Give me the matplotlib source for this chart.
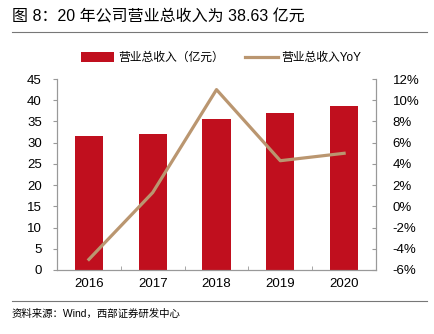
import matplotlib.pyplot as plt
from matplotlib.ticker import FuncFormatter

plt.rcParams['font.family'] = ['Liberation Sans', 'Noto Sans CJK SC', 'DejaVu Sans']

# Data
years = ['2016', '2017', '2018', '2019', '2020']
revenue = [31.6, 32.1, 35.5, 37.0, 38.63]       # 营业总收入（亿元）
yoy = [-5.0, 1.3, 11.0, 4.3, 5.0]               # 营业总收入YoY (%)

bar_color = '#C00F1E'
line_color = '#BA9670'
axis_color = '#999999'

fig = plt.figure(figsize=(4.34, 3.34), dpi=100)
ax = fig.add_axes([57 / 434, 1 - 270 / 334, (376 - 57) / 434, (270 - 79) / 334])
ax2 = ax.twinx()

x = list(range(len(years)))
bars = ax.bar(x, revenue, width=0.44, color=bar_color, zorder=2)
line, = ax2.plot(x, yoy, color=line_color, linewidth=2.3, zorder=3)

ax.set_xlim(-0.5, 4.5)
ax.set_ylim(0, 45)
ax.set_yticks(range(0, 46, 5))
ax2.set_ylim(-6, 12)
ax2.set_yticks(range(-6, 13, 2))
ax2.yaxis.set_major_formatter(FuncFormatter(lambda v, p: f'{int(v)}%'))

ax.set_xticks(x)
ax.set_xticklabels(years)
ax.set_xticks([0.5, 1.5, 2.5, 3.5], minor=True)
ax.tick_params(axis='x', which='major', length=0, labelsize=9.5, pad=6)
ax.tick_params(axis='x', which='minor', length=3, direction='in', color=axis_color)
ax.tick_params(axis='y', length=3, direction='out', color=axis_color, labelsize=9.5, pad=8)
ax2.tick_params(axis='y', length=3, direction='in', color=axis_color, labelsize=9.5, pad=12)

for a in (ax, ax2):
    a.spines['top'].set_visible(False)
    for s in ('left', 'right', 'bottom'):
        a.spines[s].set_color(axis_color)
        a.spines[s].set_linewidth(0.8)

fig.legend([bars, line], ['营业总收入（亿元）', '营业总收入YoY'], loc='center',
           bbox_to_anchor=(0.51, 1 - 58 / 334), ncol=2, frameon=False, fontsize=8.5,
           handlelength=2.8, handleheight=0.9, columnspacing=1.8, handletextpad=0.3)

fig.text(12 / 434, 1 - 17 / 334, '图 8：20 年公司营业总收入为 38.63 亿元', fontsize=11.5,
         ha='left', va='center')
fig.add_artist(plt.Line2D([12 / 434, 427 / 434], [1 - 32 / 334, 1 - 32 / 334],
                          color='#777777', linewidth=0.8))
fig.add_artist(plt.Line2D([12 / 434, 427 / 434], [1 - 301 / 334, 1 - 301 / 334],
                          color='#777777', linewidth=0.8))
fig.text(12 / 434, 1 - 314 / 334, '资料来源：Wind，西部证券研发中心', fontsize=7.5,
         ha='left', va='center')

fig.savefig('out.png', dpi=100)
